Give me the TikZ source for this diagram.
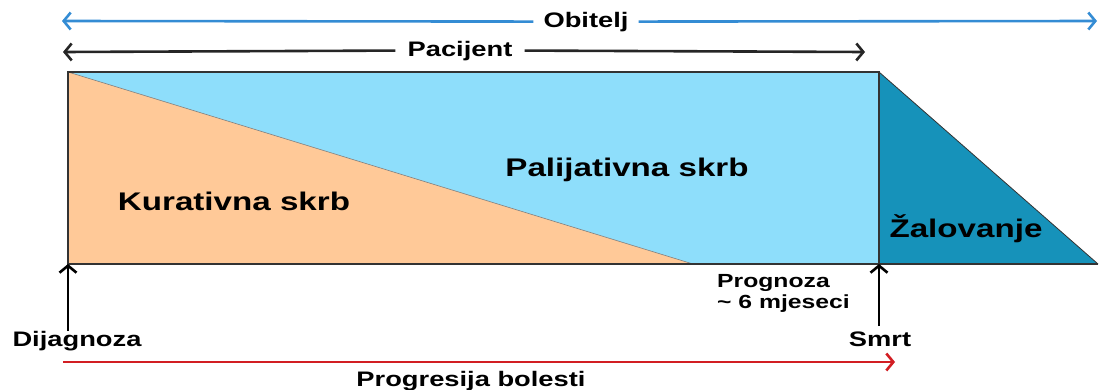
\documentclass[tikz,border=0pt]{standalone}
\usepackage{fontspec}
\setmainfont{Liberation Sans}[FakeStretch=1.3]
\usetikzlibrary{arrows.meta}
\definecolor{lblue}{RGB}{142,222,251}
\definecolor{lorange}{RGB}{255,201,152}
\definecolor{dblue}{RGB}{22,146,186}
\definecolor{famblue}{RGB}{52,140,212}
\definecolor{progred}{RGB}{210,30,35}
\tikzset{
  lbl/.style={font=\bfseries\fontsize{21}{24}\selectfont, inner sep=0pt},
  biglbl/.style={font=\bfseries\fontsize{25.5}{28}\selectfont, inner sep=0pt},
  arr/.style={line width=2.6pt, -{Straight Barb[length=7pt,width=17pt,line width=2.6pt]}},
  larr/.style={line width=2.6pt, {Straight Barb[length=7pt,width=17pt,line width=2.6pt]}-},
  edge/.style={draw=black!80, line width=1.8pt, line join=miter}
}
\begin{document}
\begin{tikzpicture}[x=1pt,y=-1pt]
\useasboundingbox (0,0) rectangle (1099,389);
% areas
\fill[lblue] (68,72) rectangle (879,264);
\fill[lorange] (68,72) -- (693,264) -- (68,264) -- cycle;
\draw[black!50, line width=0.6pt] (68,72) -- (693,264);
\fill[dblue] (879,72) -- (1098,264) -- (879,264) -- cycle;
\draw[black!80, line width=0.8pt] (879,72) -- (1098,264);
\draw[edge] (1098,264) -- (68,264) -- (68,72) -- (879,72) -- (879,264);
% coordinates
\coordinate (famL) at (62,21);
\coordinate (famR) at (1097,21);
\coordinate (patL) at (63,52);
\coordinate (patR) at (865,52);
\coordinate (progL) at (63,362);
\coordinate (progR) at (895,362);
\coordinate (diagTop) at (68,264);
\coordinate (diagBot) at (68,331);
\coordinate (deathTop) at (879,264);
\coordinate (deathBot) at (879,326);
% labels
\node[lbl, inner xsep=10pt, inner ysep=2pt, anchor=base] (fam) at (586,27) {Obitelj};
\node[lbl, inner xsep=12pt, inner ysep=2pt, anchor=base] (pat) at (460,56) {Pacijent};
\node[biglbl, anchor=base] (cur) at (234,210) {Kurativna skrb};
\node[biglbl, anchor=base] (pal) at (627,176) {Palijativna skrb};
\node[biglbl, anchor=base] (zal) at (966,237) {Žalovanje};
\node[font=\bfseries\fontsize{19}{21}\selectfont, inner sep=0pt, anchor=base west] (prog1) at (717,287) {Prognoza};
\node[font=\bfseries\fontsize{19}{21}\selectfont, inner sep=0pt, anchor=base west] (prog2) at (717,308) {\textasciitilde{} 6 mjeseci};
\node[lbl, anchor=base] (diag) at (77,346) {Dijagnoza};
\node[lbl, anchor=base] (death) at (880,346) {Smrt};
\node[lbl, anchor=base] (progres) at (471,386) {Progresija bolesti};
% arrows
\draw[larr, famblue] (famL) -- (fam.west);
\draw[arr, famblue] (fam.east) -- (famR);
\draw[larr, black!85] (patL) -- (pat.west);
\draw[arr, black!85] (pat.east) -- (patR);
\draw[arr, progred] (progL) -- (progR);
\draw[arr, black] (diagBot) -- (diagTop);
\draw[arr, black] (deathBot) -- (deathTop);
\end{tikzpicture}
\end{document}
